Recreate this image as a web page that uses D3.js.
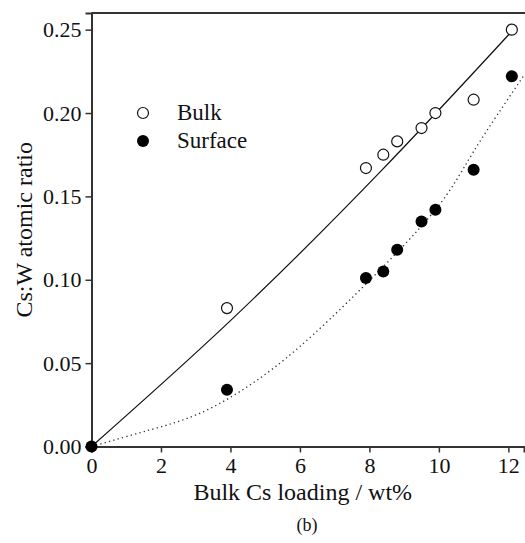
<!DOCTYPE html>
<html>
<head>
<meta charset="utf-8">
<script src="https://cdn.jsdelivr.net/npm/d3@7"></script>
</head>
<body style="margin:0">
<svg id="fig" width="525" height="543"></svg>
<script>
// loading values (wt%) and atomic ratios
var loading = [3.9, 7.9, 8.4, 8.8, 9.5, 9.9, 11.0, 12.1];
var bulkRatio = [0.083, 0.167, 0.175, 0.183, 0.191, 0.200, 0.208, 0.250];
var surfLoading = [0, 3.9, 7.9, 8.4, 8.8, 9.5, 9.9, 11.0, 12.1];
var surfRatio = [0.000, 0.034, 0.101, 0.105, 0.118, 0.135, 0.142, 0.166, 0.222];

// fit curves
var bulkFitX = [0, 4.0, 8.31, 12.12];
var bulkFitY = [0, 0.0755, 0.1647, 0.2495];
var surfFitX = [0, 1.69, 3.13, 4.57, 6.0, 7.88, 9.9, 10.99, 12.48];
var surfFitY = [0, 0.010, 0.020, 0.037, 0.060, 0.097, 0.142, 0.1766, 0.2236];

var xTicks = [0, 2, 4, 6, 8, 10, 12];
var yTicks = [0, 0.05, 0.10, 0.15, 0.20, 0.25];
var legendLabels = ["Bulk", "Surface"];

var mLeft = 91.5, mRight = 524, mTop = 13, mBottom = 446.5;

var fig = d3.select("#fig");
var x = d3.scaleLinear().domain([0, 12.45]).range([mLeft, mRight]);
var y = d3.scaleLinear().domain([0, 0.26]).range([mBottom, mTop]);

fig.append("defs").append("clipPath").attr("id", "plotclip")
    .append("rect").attr("x", mLeft).attr("y", mTop)
    .attr("width", mRight - mLeft).attr("height", mBottom - mTop);

var plot = fig.append("g").attr("clip-path", "url(#plotclip)");

var fitLine = d3.line()
    .x(d => x(d[0]))
    .y(d => y(d[1]))
    .curve(d3.curveNatural);

plot.append("path")
    .datum(d3.zip(bulkFitX, bulkFitY))
    .attr("d", fitLine)
    .attr("fill", "none")
    .attr("stroke", "#111")
    .attr("stroke-width", 1.2);

plot.append("path")
    .datum(d3.zip(surfFitX, surfFitY))
    .attr("d", fitLine)
    .attr("fill", "none")
    .attr("stroke", "#333")
    .attr("stroke-width", 1.3)
    .attr("stroke-dasharray", "1.3,3.2");

// axes
var xAxis = d3.axisBottom(x).tickValues(xTicks).tickSize(6).tickPadding(5)
    .tickFormat(d3.format("d"));
var gx = fig.append("g").attr("transform", "translate(0," + mBottom + ")").call(xAxis);

var yAxis = d3.axisLeft(y).tickValues(yTicks).tickSize(6).tickPadding(4)
    .tickFormat(d3.format(".2f"));
var gy = fig.append("g").attr("transform", "translate(" + mLeft + ",0)").call(yAxis);

[gx, gy].forEach(function (g) {
    g.attr("font-family", null).attr("font-size", null);
    g.select(".domain").attr("stroke", "#333").attr("stroke-width", 2);
    g.selectAll(".tick line").attr("stroke", "#333").attr("stroke-width", 1.5);
    g.selectAll(".tick text").each(function () {
        this.style.setProperty("font-size", "22px", "important");
    });
});

fig.append("line")
    .attr("x1", mLeft).attr("x2", mRight + 2)
    .attr("y1", mTop).attr("y2", mTop)
    .attr("stroke", "#333").attr("stroke-width", 2);

// points
fig.selectAll(".bulk").data(d3.zip(loading, bulkRatio)).enter()
    .append("circle").classed("bulk", true)
    .attr("cx", d => x(d[0])).attr("cy", d => y(d[1]))
    .attr("r", 5.5)
    .attr("fill", "#fff")
    .attr("stroke", "#111").attr("stroke-width", 1.2);

fig.selectAll(".surf").data(d3.zip(surfLoading, surfRatio)).enter()
    .append("circle").classed("surf", true)
    .attr("cx", d => x(d[0])).attr("cy", d => y(d[1]))
    .attr("r", 6)
    .attr("fill", "#000");

// legend
fig.append("circle").attr("cx", 143).attr("cy", 113).attr("r", 5.5)
    .attr("fill", "#fff").attr("stroke", "#111").attr("stroke-width", 1.2);
fig.append("circle").attr("cx", 143).attr("cy", 141).attr("r", 6).attr("fill", "#000");
fig.selectAll(".legtext").data(legendLabels).enter().append("text")
    .classed("legtext", true)
    .attr("x", 177)
    .attr("y", (d, i) => 120 + i * 28)
    .style("font-size", "23px")
    .text(d => d);

// titles
fig.append("text")
    .attr("x", (mLeft + mRight) / 2 - 5).attr("y", 500)
    .attr("text-anchor", "middle")
    .style("font-size", "24px")
    .text("Bulk Cs loading / wt%");

fig.append("text")
    .attr("transform", "translate(32," + ((mTop + mBottom) / 2) + ") rotate(-90)")
    .attr("text-anchor", "middle")
    .style("font-size", "24px")
    .text("Cs:W atomic ratio");

fig.append("text")
    .attr("x", 307).attr("y", 531)
    .attr("text-anchor", "middle")
    .style("font-size", "18px")
    .text("(b)");

// serif face on every text, forced over any other rule
fig.selectAll("text").each(function () {
    this.style.setProperty("font-family", "'Liberation Serif'", "important");
    this.setAttribute("fill", "#111");
});
</script>
</body>
</html>
